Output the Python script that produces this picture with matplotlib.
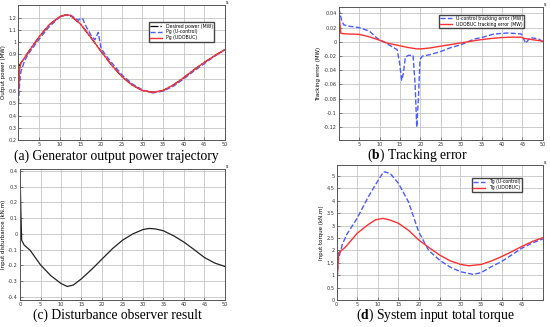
import matplotlib.pyplot as plt

plt.rcParams['mathtext.fontset'] = 'custom'
plt.rcParams['mathtext.rm'] = 'Liberation Serif'
plt.rcParams['mathtext.bf'] = 'Liberation Serif:bold'

# (a) generator output power
t_des = [0, 0.3, 0.6, 1, 2.5, 5, 7.5, 10, 11.5, 12.5, 15, 17.5, 20, 22.5, 25, 27.5, 30, 32.5, 35, 37.5, 40, 42.5, 45, 47.5, 50]
p_des = [0.80, 0.815, 0.83, 0.85, 0.925, 1.045, 1.145, 1.21, 1.225, 1.22, 1.15, 1.04, 0.925, 0.815, 0.72, 0.65, 0.605, 0.59, 0.605, 0.65, 0.71, 0.775, 0.835, 0.89, 0.94]
p_udo = [0.58, 0.78, 0.83, 0.85, 0.925, 1.045, 1.145, 1.21, 1.225, 1.22, 1.15, 1.04, 0.925, 0.815, 0.72, 0.65, 0.605, 0.59, 0.605, 0.65, 0.71, 0.775, 0.835, 0.89, 0.94]
t_pu = [0, 0.3, 0.6, 1, 1.5, 2.5, 5, 7.5, 10, 11.5, 12.5, 14.5, 15.2, 15.6, 16.2, 17.5, 18.5, 19.3, 20, 21, 22.5, 25, 27.5, 30, 32.5, 35, 37.5, 40, 42.5, 45, 46, 47.5, 50]
p_u = [0.50, 0.68, 0.76, 0.80, 0.85, 0.91, 1.025, 1.13, 1.205, 1.225, 1.225, 1.18, 1.20, 1.19, 1.14, 1.06, 1.02, 1.08, 0.95, 0.90, 0.835, 0.735, 0.66, 0.61, 0.585, 0.60, 0.64, 0.70, 0.765, 0.825, 0.85, 0.885, 0.94]

# (b) tracking error
t_eu = [0, 0.3, 0.7, 1.2, 2.5, 5, 7.5, 9.4, 11, 12.5, 14.3, 14.9, 15.4, 15.8, 16.3, 17, 18.2, 18.7, 19.1, 19.5, 19.9, 20.5, 22.4, 25, 27.5, 30, 33.2, 35, 38, 41.5, 44.8, 45.3, 45.8, 46.9, 49, 50]
e_u = [0.047, 0.04, 0.03, 0.024, 0.022, 0.02, 0.015, 0.005, 0.0, -0.005, -0.011, -0.03, -0.054, -0.045, -0.022, -0.019, -0.019, -0.06, -0.12, -0.08, -0.025, -0.02, -0.018, -0.0135, -0.008, -0.004, 0.004, 0.006, 0.011, 0.0125, 0.011, 0.004, -0.002, 0.006, 0.004, 0.0]
t_eo = [0, 0.2, 0.5, 1, 2.5, 5, 7.5, 9.4, 12, 14.3, 17, 19, 20, 22.5, 25, 27.5, 30, 32.5, 34.8, 37.5, 39.8, 42.5, 44.8, 45.2, 47.5, 50]
e_o = [0.045, 0.03, 0.012, 0.0115, 0.011, 0.0105, 0.007, 0.0035, -0.002, -0.0047, -0.008, -0.0098, -0.01, -0.0085, -0.006, -0.0038, -0.0014, 0.001, 0.003, 0.0048, 0.006, 0.0066, 0.0065, 0.005, 0.003, 0.001]

# (c) disturbance observer
t_d = [0, 0.2, 0.4, 1, 2.5, 5, 7.5, 10, 11.5, 13, 15, 17.5, 20, 22.5, 25, 27.5, 30, 31.5, 33, 35, 37.5, 40, 42.5, 45, 47.5, 50]
dist = [0.4, 0.15, -0.04, -0.07, -0.105, -0.197, -0.265, -0.315, -0.334, -0.325, -0.285, -0.225, -0.16, -0.095, -0.04, 0.0, 0.028, 0.035, 0.032, 0.02, -0.012, -0.052, -0.1, -0.15, -0.185, -0.207]

# (d) input torque
t_tu = [0, 0.15, 0.3, 0.6, 1, 1.4, 2.5, 5, 7.5, 9.4, 11.4, 13, 15, 17.4, 19.9, 22.3, 25, 27.5, 30, 33.1, 35, 37.5, 40, 42.5, 44.8, 47.5, 50]
tg_u = [0, 0.8, 1.4, 1.75, 2.0, 2.25, 2.65, 3.3, 4.1, 4.64, 5.17, 5.1, 4.7, 3.96, 2.75, 2.0, 1.6, 1.33, 1.14, 1.03, 1.1, 1.34, 1.55, 1.82, 2.08, 2.3, 2.46]
t_to = [0, 0.2, 0.5, 1, 1.8, 2.5, 5, 7.5, 9.4, 11.2, 13, 15, 17.5, 19.9, 22.5, 25, 27.5, 30, 32, 35, 37.5, 40, 42.5, 44.8, 47.5, 50]
tg_o = [0, 1.0, 1.9, 1.98, 2.08, 2.2, 2.69, 3.02, 3.23, 3.29, 3.22, 3.09, 2.8, 2.42, 2.1, 1.81, 1.58, 1.44, 1.38, 1.43, 1.57, 1.75, 1.95, 2.15, 2.36, 2.51]

blue = '#4a5cff'
red = '#ff3030'
fs = 3.6

fig = plt.figure(figsize=(5.5, 3.27), dpi=100)


def setup(ax, ylabel, xticks, yticks, ylim, xmax=50):
    ax.set_xlim(0, xmax)
    ax.set_ylim(*ylim)
    ax.set_xticks(xticks)
    ax.set_yticks(yticks)
    ax.set_xticklabels([('%g' % v) for v in xticks])
    ax.set_yticklabels([('%g' % v) for v in yticks])
    ax.tick_params(labelsize=fs, direction='in', length=2, width=0.4, pad=1.5, colors='#333333')
    ax.grid(True, color='#c4c4c4', lw=0.6)
    ax.set_axisbelow(True)
    for s in ax.spines.values():
        s.set_color('#555555')
        s.set_linewidth(0.7)
    ax.set_ylabel(ylabel, fontsize=fs + 0.4, labelpad=1.5)


leg = dict(fontsize=3.3, frameon=True, fancybox=False, edgecolor='#444444',
           handlelength=2.6, borderpad=0.3, labelspacing=0.2, framealpha=1)

# (a)
ax1 = fig.add_axes([0.0336, 0.572, 0.3755, 0.4127])
ax1.plot(t_des, p_des, color='black', ls='-.', lw=0.9, label='Desired power (MW)')
ax1.plot(t_pu, p_u, color=blue, ls='--', lw=1.0, label='Pg (U-control)')
ax1.plot(t_des, p_udo, color=red, ls='-', lw=1.0, label='Pg (UDOBUC)')
setup(ax1, 'Output power (MW)', [5, 10, 15, 20, 25, 30, 35, 40, 45, 50],
      [0.2, 0.3, 0.4, 0.5, 0.6, 0.7, 0.8, 0.9, 1, 1.1, 1.2], (0.2, 1.305))
ax1.legend(loc='upper right', bbox_to_anchor=(0.96, 0.89), **leg)

# (b)
ax2 = fig.add_axes([0.616, 0.572, 0.371, 0.4066])
ax2.plot(t_eu, e_u, color=blue, ls='--', lw=1.0, label='U-control tracking error (MW)')
ax2.plot(t_eo, e_o, color=red, ls='-', lw=1.0, label='UDOBUC tracking error (MW)')
setup(ax2, 'Tracking error (MW)', [5, 10, 15, 20, 25, 30, 35, 40, 45, 50],
      [-0.12, -0.1, -0.08, -0.06, -0.04, -0.02, 0, 0.02, 0.04], (-0.138, 0.049))
ax2.legend(loc='upper right', bbox_to_anchor=(0.92, 0.96), **leg)

# (c)
ax3 = fig.add_axes([0.0364, 0.0826, 0.3726, 0.4006])
ax3.plot(t_d, dist, color='#222222', lw=0.9)
setup(ax3, 'Input disturbance (kN.m)', [0, 5, 10, 15, 20, 25, 30, 35, 40, 45, 50],
      [-0.4, -0.3, -0.2, -0.1, 0, 0.1, 0.2, 0.3, 0.4], (-0.42, 0.413))

# (d)
ax4 = fig.add_axes([0.612, 0.0826, 0.375, 0.4128])
ax4.plot(t_tu, tg_u, color=blue, ls='--', lw=1.0, label='Tg (U-control)')
ax4.plot(t_to, tg_o, color=red, ls='-', lw=1.0, label='Tg (UDOBUC)')
setup(ax4, 'Input torque (kN.m)', [0, 5, 10, 15, 20, 25, 30, 35, 40, 45],
      [0, 0.5, 1, 1.5, 2, 2.5, 3, 3.5, 4, 4.5, 5], (0, 5.44), xmax=50)
ax4.legend(loc='upper right', bbox_to_anchor=(0.91, 0.92), **leg)

# small corner marks
for ax in [ax1, ax2, ax3, ax4]:
    ax.text(1.005, 1.0, 's', transform=ax.transAxes, fontsize=3.5, va='bottom', ha='left')

# captions
cap = dict(fontsize=9.8, family='Liberation Serif', ha='center', va='center')
fig.text(116 / 550, 1 - 156 / 327, '(a) Generator output power trajectory', **cap)
fig.text(418 / 550, 1 - 155 / 327, r'($\mathbf{b}$) Tracking error', **cap)
fig.text(117 / 550, 1 - 315 / 327, '(c) Disturbance observer result', **cap)
fig.text(435 / 550, 1 - 315 / 327, r'($\mathbf{d}$) System input total torque', **cap)

fig.savefig('out.png', dpi=100)
